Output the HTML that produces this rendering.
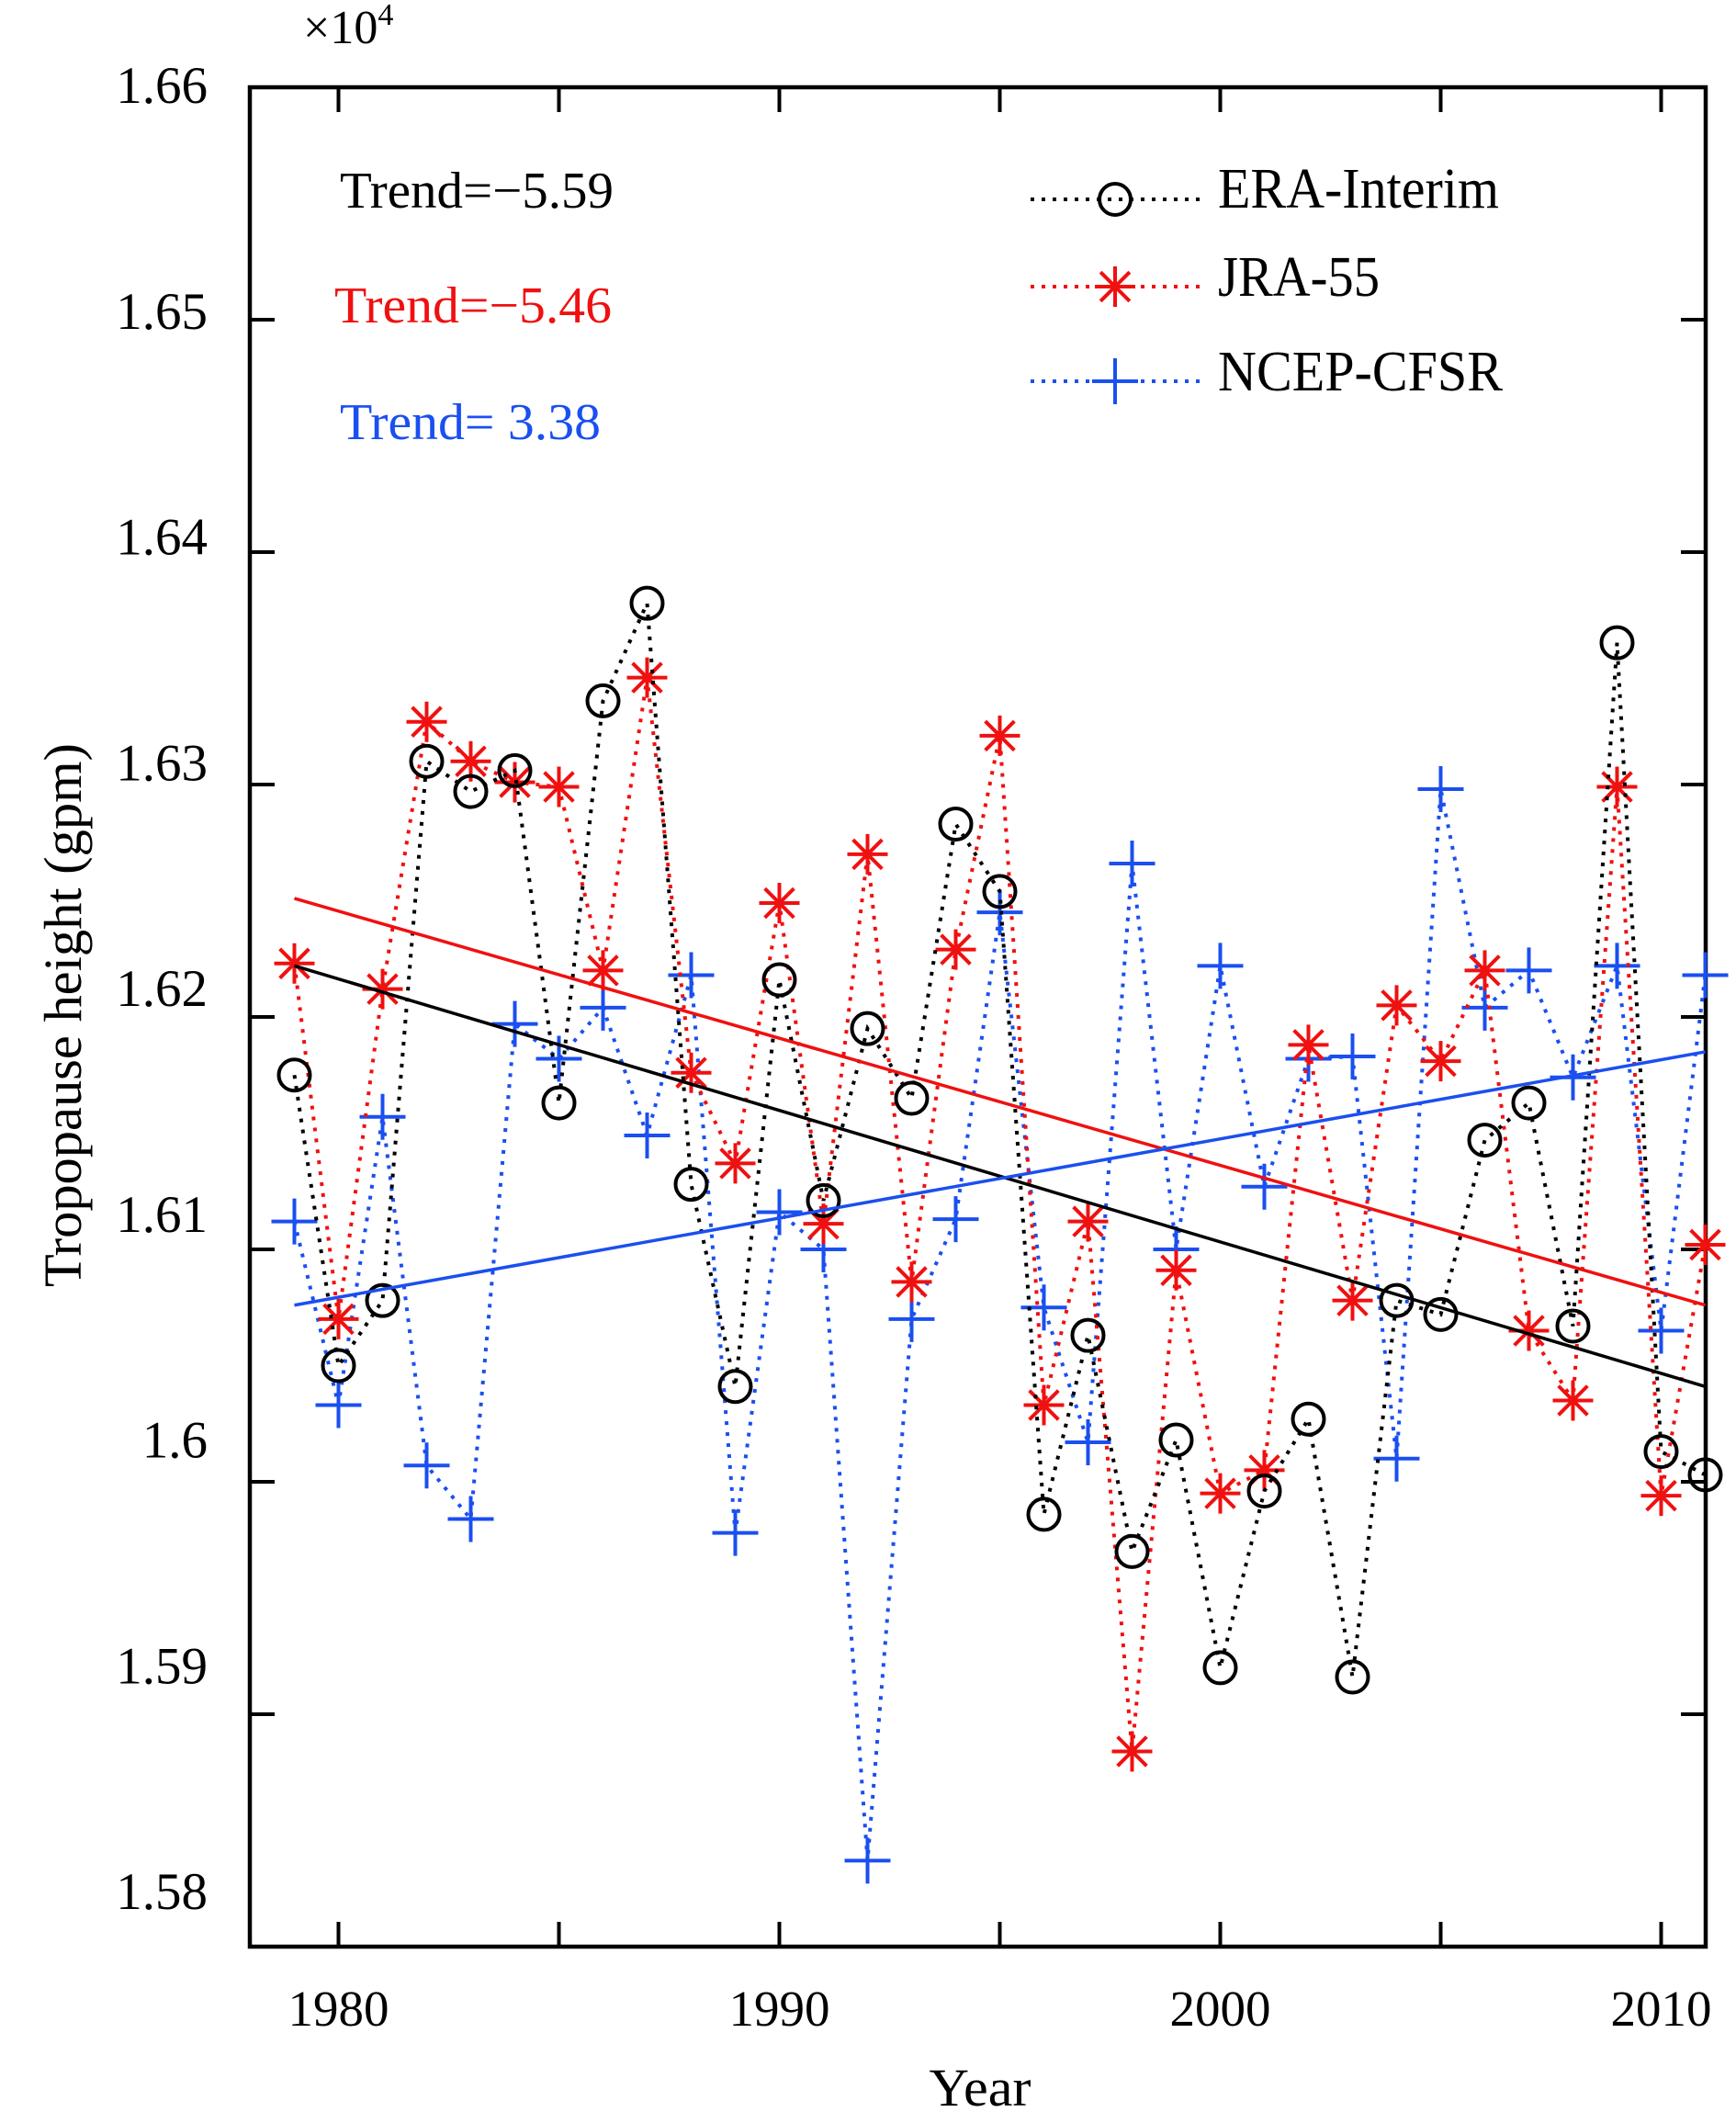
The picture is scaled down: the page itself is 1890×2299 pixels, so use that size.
<!DOCTYPE html>
<html><head><meta charset="utf-8"><style>
html,body{margin:0;padding:0;background:#fff;}
svg{display:block;font-family:"Liberation Serif","DejaVu Serif",serif;}
</style></head><body>
<svg id="chart" width="1890" height="2299" viewBox="0 0 1890 2299" xmlns="http://www.w3.org/2000/svg"></svg>
<script>
const years = [1979,1980,1981,1982,1983,1984,1985,1986,1987,1988,1989,1990,1991,1992,1993,1994,1995,1996,1997,1998,1999,2000,2001,2002,2003,2004,2005,2006,2007,2008,2009,2010,2011];
const eraValues = [16175,16050,16078,16310,16297,16306,16163,16336,16378,16128,16041,16216,16121,16195,16165,16283,16254,15986,16063,15970,16018,15920,15996,16027,15916,16078,16072,16147,16163,16067,16361,16013,16003];
const jraValues = [16223,16070,16212,16327,16310,16301,16299,16220,16346,16176,16137,16249,16111,16270,16086,16229,16321,16033,16112,15884,16091,15995,16005,16188,16078,16205,16181,16220,16065,16035,16299,15994,16102];
const ncepValues = [16112,16033,16157,16007,15984,16197,16182,16204,16149,16218,15978,16116,16100,15837,16070,16113,16245,16075,16017,16266,16100,16222,16127,16182,16183,16010,16298,16204,16220,16174,16222,16065,16218];
const trendYears = [1979,2011];
const eraTrend = [16222,16041];
const jraTrend = [16251,16076];
const ncepTrend = [16076,16185];
const yTicks = [15800,15900,16000,16100,16200,16300,16400,16500,16600];
const yTickLabels = ["1.58","1.59","1.6","1.61","1.62","1.63","1.64","1.65","1.66"];
const xTicks = [1980,1985,1990,1995,2000,2005,2010];
const xTickLabels = ["1980","","1990","","2000","","2010"];
const trendLabels = ["Trend=\u22125.59","Trend=\u22125.46","Trend= 3.38"];
const legendLabels = ["ERA-Interim","JRA-55","NCEP-CFSR"];

const NS="http://www.w3.org/2000/svg";
const svg=document.getElementById('chart');
const L=272,R=1857,T=95,B=2119;
function xs(yr){return 368.5+(yr-1980)*48.0;}
function ys(v){return T+(16600-v)/100*253;}
function mk(tag,attrs,parent){const e=document.createElementNS(NS,tag);for(const k in attrs)e.setAttribute(k,attrs[k]);(parent||svg).appendChild(e);return e;}
const RED="#f01010",BLUE="#1a4ff0",BLACK="#000";

const axes=mk('g',{});


const frame=mk('rect',{x:L,y:T,width:R-L,height:B-T,fill:'none',stroke:'#000','stroke-width':4.5},axes);


yTicks.forEach((v,i)=>{
  const y=ys(v);
  const t1=mk('line',{x1:L,y1:y,x2:L+27,y2:y,stroke:'#000','stroke-width':4},axes);
  
  
  const t2=mk('line',{x1:R,y1:y,x2:R-27,y2:y,stroke:'#000','stroke-width':4},axes);
  
  
  const ly=92+(8-i)*245.75+20;
  const lab=mk('text',{x:226,y:ly,'text-anchor':'end','font-size':57},axes);
  lab.textContent=yTickLabels[i];
  
  
});
xTicks.forEach((yr,i)=>{
  const x=xs(yr);
  const t1=mk('line',{x1:x,y1:B,x2:x,y2:B-27,stroke:'#000','stroke-width':4},axes);
  
  
  const t2=mk('line',{x1:x,y1:T,x2:x,y2:T+27,stroke:'#000','stroke-width':4},axes);
  
  
  if(xTickLabels[i]){
    const lab=mk('text',{x:x,y:2205,'text-anchor':'middle','font-size':55},axes);
    lab.textContent=xTickLabels[i];
    
    
  }
});
const xt=mk('text',{x:1067,y:2292,'text-anchor':'middle','font-size':58,textLength:111,lengthAdjust:'spacingAndGlyphs'},axes);
xt.textContent='Year';


const yt=mk('text',{x:0,y:0,'text-anchor':'middle','font-size':58,textLength:592,lengthAdjust:'spacingAndGlyphs',transform:'translate(88,1105) rotate(-90)'},axes);
yt.textContent='Tropopause height (gpm)';


const mult=mk('text',{x:330,y:47,'font-size':52},axes);


mult.innerHTML='×10<tspan font-size="34" dy="-20">4</tspan>';

function marker(kind,x,y,color,g){
  if(kind==='o'){
    return mk('circle',{cx:x,cy:y,r:17,fill:'none',stroke:color,'stroke-width':4},g);
  }
  const p=mk('path',{fill:'none',stroke:color,'stroke-width':4},g);
  if(kind==='*'){
    const r=22,d=r*0.72;
    p.setAttribute('d',`M${x-r},${y}H${x+r}M${x},${y-r}V${y+r}M${x-d},${y-d}L${x+d},${y+d}M${x-d},${y+d}L${x+d},${y-d}`);
  } else {
    const r=25;
    p.setAttribute('d',`M${x-r},${y}H${x+r}M${x},${y-r}V${y+r}`);
  }
  return p;
}
function series(vals,color,kind,name){
  const g=mk('g',{});
  
  
  const pts=vals.map((v,i)=>xs(years[i])+','+ys(v)).join(' ');
  const pl=mk('polyline',{points:pts,fill:'none',stroke:color,'stroke-width':4,'stroke-dasharray':'4 8'},g);
  
  
  vals.forEach((v,i)=>{
    const m=marker(kind,xs(years[i]),ys(v),color,g);
    
    
  });
}
function trend(vals,color,name){
  const l=mk('line',{x1:xs(trendYears[0]),y1:ys(vals[0]),x2:xs(trendYears[1]),y2:ys(vals[1]),stroke:color,'stroke-width':3.5});
  
  
}
series(ncepValues,BLUE,'+','ncep-cfsr');
series(jraValues,RED,'*','jra-55');
series(eraValues,BLACK,'o','era-interim');
trend(eraTrend,BLACK,'era-interim');
trend(jraTrend,RED,'jra-55');
trend(ncepTrend,BLUE,'ncep-cfsr');

const tColors=[BLACK,RED,BLUE],tBase=[226,351,478],tLen=[298,302,284];
trendLabels.forEach((s,i)=>{
  const t=mk('text',{x:i===1?364:370,y:tBase[i],fill:tColors[i],'font-size':56,textLength:tLen[i],lengthAdjust:'spacingAndGlyphs'});
  t.textContent=s;
  
  
});
const leg=mk('g',{});


const lY=[217,312,415],lB=[226,322,425],lW=[306,176,310],lK=['o','*','+'];
legendLabels.forEach((s,i)=>{
  const e=mk('g',{},leg);
  
  
  mk('line',{x1:1122,y1:lY[i],x2:1310,y2:lY[i],stroke:tColors[i],'stroke-width':4,'stroke-dasharray':'4 8'},e);
  marker(lK[i],1214,lY[i],tColors[i],e);
  const t=mk('text',{x:1326,y:lB[i],'font-size':62,textLength:lW[i],lengthAdjust:'spacingAndGlyphs'},e);
  t.textContent=s;
});
</script>
</body></html>
